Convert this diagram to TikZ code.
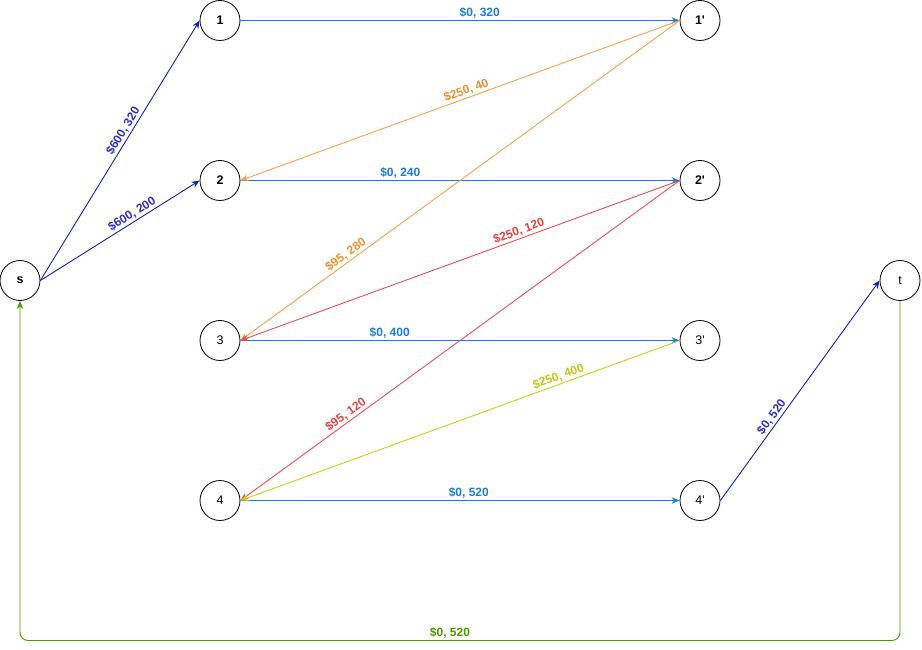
\documentclass[tikz,border=0pt]{standalone}
\usepackage{fontspec}
\newfontfamily\dfont{Liberation Sans}
\usetikzlibrary{arrows.meta}
\definecolor{hblue}{HTML}{1C7CD8}
\definecolor{dblue}{HTML}{0F22B0}
\definecolor{dbluetxt}{HTML}{2E2EC4}
\definecolor{orng}{HTML}{F5A04A}
\definecolor{orngtxt}{HTML}{EE8F2E}
\definecolor{redl}{HTML}{EA4F4F}
\definecolor{redtxt}{HTML}{E24343}
\definecolor{yell}{HTML}{CCCC1A}
\definecolor{yelltxt}{HTML}{C4C414}
\definecolor{grn}{HTML}{4D9900}
\begin{document}
\begin{tikzpicture}[x=1pt,y=-1pt,
  vert/.style={circle,draw,line width=0.8pt,minimum size=40pt,inner sep=0pt,font=\dfont\fontsize{12.5}{14}\selectfont},
  bvert/.style={vert,font=\dfont\bfseries\fontsize{12.5}{14}\selectfont},
  edge/.style={line width=0.9pt,-{Stealth[length=8pt,width=6.5pt]}},
  redge/.style={line width=0.9pt,{Stealth[length=8pt,width=6.5pt]}-},
  lab/.style={font=\dfont\bfseries\fontsize{12}{14}\selectfont,inner sep=1.5pt}
]
\useasboundingbox (0,0) rectangle (922,650);
\node[bvert] (s) at (20,280.5) {s};
\node[bvert] (n1) at (220,20.5) {1};
\node[bvert] (n2) at (220,180.5) {2};
\node[vert] (n3) at (220,340.5) {3};
\node[vert] (n4) at (220,500.5) {4};
\node[bvert] (m1) at (700,20.5) {1'};
\node[bvert] (m2) at (700,180.5) {2'};
\node[vert] (m3) at (700,340.5) {3'};
\node[vert] (m4) at (700,500.5) {4'};
\node[vert] (t) at (900,280.5) {t};
% source edges
\draw[edge,dblue] (s.east) -- node[lab,sloped,above,pos=0.56,text=dbluetxt]{\$600, 320} (n1.west);
\draw[edge,dblue] (s.east) -- node[lab,sloped,above,pos=0.6,text=dbluetxt]{\$600, 200} (n2.west);
% horizontal edges
\draw[edge,hblue] (n1.east) -- node[lab,above,pos=0.545,text=hblue]{\$0, 320} (m1.west);
\draw[edge,hblue] (n2.east) -- node[lab,above,pos=0.364,text=hblue]{\$0, 240} (m2.west);
\draw[edge,hblue] (n3.east) -- node[lab,above,pos=0.34,text=hblue]{\$0, 400} (m3.west);
\draw[edge,hblue] (n4.east) -- node[lab,above,pos=0.52,text=hblue]{\$0, 520} (m4.west);
% back edges
\draw[redge,orng] (n2.east) -- node[lab,sloped,above,pos=0.52,text=orngtxt]{\$250, 40} (m1.west);
\draw[redge,orng] (n3.east) -- node[lab,sloped,above,pos=0.25,text=orngtxt]{\$95, 280} (m1.west);
\draw[redge,redl] (n3.east) -- node[lab,sloped,above,pos=0.64,text=redtxt]{\$250, 120} (m2.west);
\draw[redge,redl] (n4.east) -- node[lab,sloped,above,pos=0.25,text=redtxt]{\$95, 120} (m2.west);
\draw[redge,yell] (n4.east) -- node[lab,sloped,above,pos=0.73,text=yelltxt]{\$250, 400} (m3.west);
% sink edge
\draw[edge,dblue] (m4.east) -- node[lab,sloped,above,pos=0.36,text=dbluetxt]{\$0, 520} (t.west);
% return edge
\coordinate (c1) at (900,640.5);
\coordinate (c2) at (20,640.5);
\draw[edge,grn,rounded corners=8pt] (t.south) -- (c1) -- (c2) -- (s.south);
\node[lab,above,text=grn] (gl) at (450,640.5) {\$0, 520};
\end{tikzpicture}
\end{document}
